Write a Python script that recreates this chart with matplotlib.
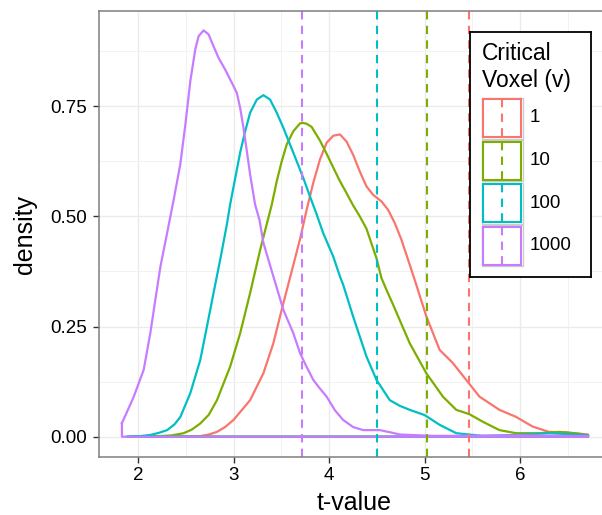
import numpy as np
import matplotlib.pyplot as plt
from matplotlib.patches import Rectangle

plt.rcParams['font.family'] = ['Liberation Sans', 'DejaVu Sans']

groups = ['1', '10', '100', '1000']
colors = ['#F8766D', '#7CAE00', '#00BFC4', '#C77CFF']

# density of t-values for each critical voxel count
t_1 = [2.2, 2.45, 2.65, 2.74, 2.825, 2.91, 2.998, 3.172, 3.311, 3.415, 3.52,
       3.607, 3.694, 3.764, 3.833, 3.903, 3.973, 4.042, 4.112, 4.181, 4.25,
       4.32, 4.39, 4.459, 4.547, 4.616, 4.686, 4.756, 4.825, 4.895, 5.017,
       5.156, 5.295, 5.434, 5.573, 5.782, 5.956, 6.13, 6.30, 6.478, 6.71]
d_1 = [0.0, 0.0005, 0.0015, 0.005, 0.011, 0.022, 0.038, 0.083, 0.144, 0.212,
       0.303, 0.375, 0.448, 0.515, 0.576, 0.629, 0.667, 0.683, 0.686, 0.67,
       0.64, 0.602, 0.568, 0.549, 0.534, 0.515, 0.485, 0.447, 0.402, 0.356,
       0.273, 0.197, 0.167, 0.129, 0.091, 0.061, 0.045, 0.023, 0.011, 0.010,
       0.005]

t_10 = [2.0, 2.2, 2.35, 2.476, 2.56, 2.65, 2.74, 2.825, 2.963, 3.068, 3.172,
        3.277, 3.399, 3.451, 3.503, 3.555, 3.624, 3.694, 3.729, 3.764, 3.816,
        3.903, 3.973, 4.042, 4.112, 4.181, 4.25, 4.32, 4.39, 4.44, 4.495,
        4.547, 4.6, 4.668, 4.843, 5.017, 5.19, 5.33, 5.469, 5.608, 5.782,
        5.956, 6.2, 6.41, 6.6, 6.71]
d_10 = [0.0, 0.001, 0.003, 0.008, 0.016, 0.03, 0.05, 0.083, 0.159, 0.235,
        0.326, 0.424, 0.527, 0.58, 0.625, 0.663, 0.693, 0.711, 0.712, 0.71,
        0.703, 0.672, 0.642, 0.611, 0.58, 0.553, 0.525, 0.5, 0.472, 0.44,
        0.405, 0.36, 0.333, 0.30, 0.212, 0.144, 0.091, 0.061, 0.051, 0.034,
        0.015, 0.008, 0.008, 0.011, 0.007, 0.003]

t_100 = [1.89, 2.0, 2.128, 2.22, 2.303, 2.38, 2.442, 2.546, 2.65, 2.72, 2.789,
         2.859, 2.929, 2.963, 3.016, 3.068, 3.12, 3.172, 3.242, 3.311, 3.381,
         3.451, 3.52, 3.59, 3.66, 3.729, 3.799, 3.868, 3.937, 4.042, 4.112,
         4.146, 4.25, 4.39, 4.495, 4.634, 4.74, 4.843, 5.0, 5.156, 5.33, 5.6,
         5.956, 6.30, 6.5, 6.71]
d_100 = [0.0, 0.001, 0.004, 0.009, 0.015, 0.028, 0.045, 0.099, 0.174, 0.25,
         0.326, 0.402, 0.482, 0.527, 0.587, 0.645, 0.693, 0.735, 0.765, 0.775,
         0.765, 0.735, 0.701, 0.663, 0.625, 0.587, 0.545, 0.505, 0.462, 0.409,
         0.364, 0.345, 0.273, 0.182, 0.129, 0.083, 0.07, 0.061, 0.049, 0.027,
         0.008, 0.002, 0.004, 0.008, 0.006, 0.003]

t_1000 = [1.83, 1.87, 1.954, 2.058, 2.128, 2.18, 2.233, 2.303, 2.372, 2.44,
          2.494, 2.546, 2.598, 2.633, 2.685, 2.737, 2.789, 2.841, 2.911,
          2.981, 3.033, 3.068, 3.102, 3.138, 3.172, 3.224, 3.27, 3.311, 3.415,
          3.52, 3.624, 3.694, 3.76, 3.833, 3.90, 3.973, 4.06, 4.146, 4.25,
          4.355, 4.53, 4.64, 4.74, 5.08, 5.5, 6.0, 6.4, 6.71]
d_1000 = [0.031, 0.05, 0.091, 0.152, 0.236, 0.311, 0.386, 0.462, 0.538, 0.617,
          0.708, 0.807, 0.879, 0.909, 0.922, 0.913, 0.886, 0.86, 0.833, 0.803,
          0.78, 0.746, 0.701, 0.648, 0.595, 0.527, 0.492, 0.44, 0.364, 0.288,
          0.235, 0.19, 0.16, 0.129, 0.11, 0.091, 0.06, 0.038, 0.022, 0.015,
          0.015, 0.01, 0.005, 0.002, 0.002, 0.003, 0.002, 0.001]

# critical t thresholds (dashed lines)
crit_t = [5.46, 5.02, 4.50, 3.72]

curves = [(t_1, d_1), (t_10, d_10), (t_100, d_100), (t_1000, d_1000)]

W, H = 602, 515
fig = plt.figure(figsize=(W / 100, H / 100), dpi=100)
ax = fig.add_axes([99 / W, 1 - 457 / H, 512 / W, 446 / H])

ax.set_xlim(1.59, 6.95)
ax.set_ylim(-0.046, 0.966)
ax.set_xticks([2, 3, 4, 5, 6])
ax.set_xticks([2.5, 3.5, 4.5, 5.5, 6.5], minor=True)
ax.set_yticks([0, 0.25, 0.5, 0.75])
ax.set_yticks([0.125, 0.375, 0.625, 0.875], minor=True)
ax.set_yticklabels(['0.00', '0.25', '0.50', '0.75'])
ax.grid(which='major', color='#EBEBEB', lw=1.0)
ax.grid(which='minor', color='#F2F2F2', lw=0.7)
ax.set_axisbelow(True)
ax.tick_params(which='major', length=4.5, width=1.0, color='#333333',
               labelsize=13.5, labelcolor='black')
ax.tick_params(axis='x', pad=3)
ax.tick_params(axis='y', pad=4)
ax.tick_params(which='minor', length=0)
for s in ax.spines.values():
    s.set_color('#7F7F7F')
    s.set_linewidth(1.1)

# outlined density polygons (closed along the baseline)
for (t, d), c in zip(curves, colors):
    xs = list(t) + [t[-1], t[0], t[0]]
    ys = list(d) + [0, 0, d[0]]
    ax.plot(xs, ys, color=c, lw=1.6, solid_joinstyle='round')

for v, c in zip(crit_t, colors):
    ax.axvline(v, color=c, lw=1.5, linestyle=(0, (4, 3)))

ax.set_xlabel('t-value', fontsize=18, va='center')
ax.set_ylabel('density', fontsize=18, va='center')
ax.xaxis.set_label_coords(0.498, -0.103)
ax.yaxis.set_label_coords(-0.1445, 0.5)

# legend box
lax = fig.add_axes([470 / W, 1 - 277 / H, 121 / W, 245 / H])
lax.set_xlim(0, 121)
lax.set_ylim(245, 0)
lax.set_xticks([])
lax.set_yticks([])
for s in lax.spines.values():
    s.set_color('black')
    s.set_linewidth(1.3)
lax.text(11.5, 21, 'Critical', fontsize=16.5, va='center', ha='left')
lax.text(11.5, 48, 'Voxel (v)', fontsize=16.5, va='center', ha='left')
for i, (g, c) in enumerate(zip(groups, colors)):
    top = 65.5 + i * 42.6
    lax.add_patch(Rectangle((11.7, top), 41, 41, fill=False,
                            ec='#CCCCCC', lw=1.0))
    lax.add_patch(Rectangle((13.2, top + 1.5), 38, 38, fill=False,
                            ec=c, lw=1.5))
    lax.plot([32.2, 32.2], [top + 1.5, top + 39.5], color=c, lw=1.5,
             linestyle=(0, (4, 3)))
    lax.text(60, top + 20.5, g, fontsize=13.5, va='center', ha='left')

fig.savefig('out.png', dpi=100)
